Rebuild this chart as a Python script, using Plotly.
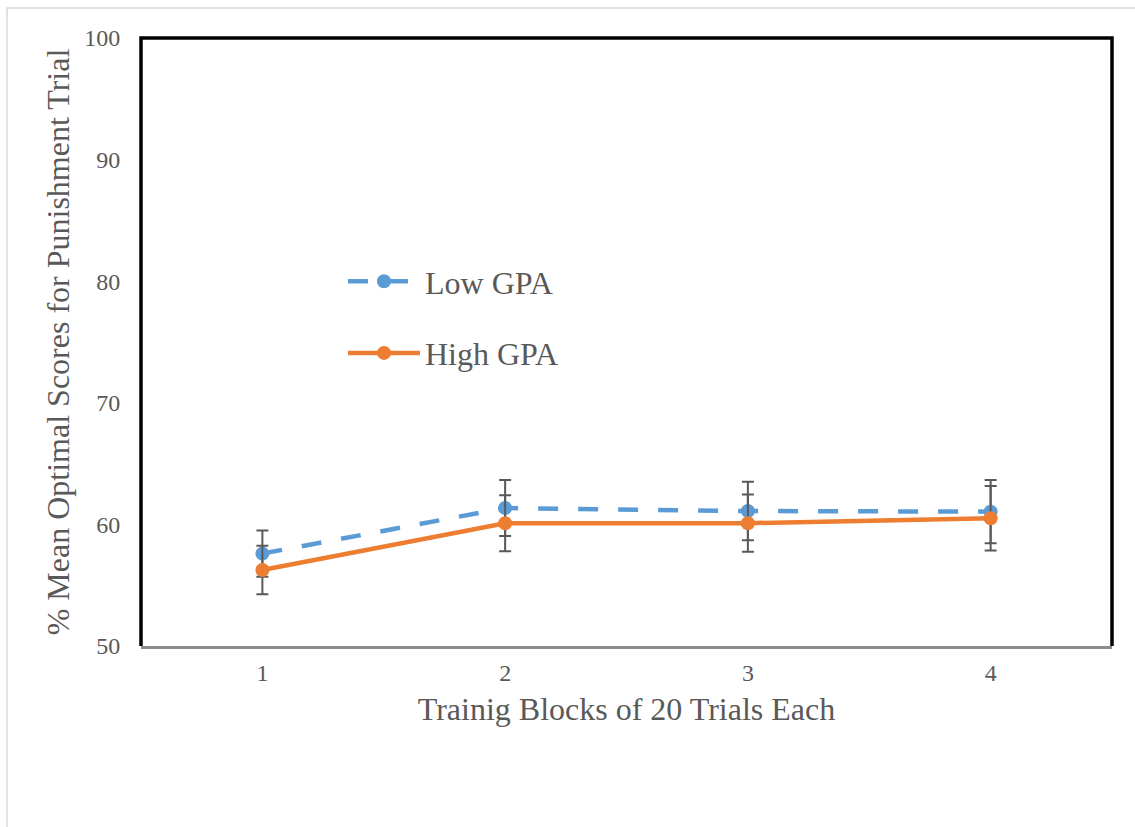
import plotly.graph_objects as go

blocks = [1, 2, 3, 4]
tick_labels = ["1", "2", "3", "4"]
low_gpa = [57.6, 61.35, 61.1, 61.05]
low_err = [1.9, 2.3, 2.4, 2.6]
high_gpa = [56.25, 60.1, 60.1, 60.5]
high_err = [2.0, 2.3, 2.35, 2.65]

BLUE = "#5B9BD5"
ORANGE = "#ED7D31"
GRAY = "#595959"
FONT = "Liberation Serif"

fig = go.Figure()
fig.add_trace(go.Scatter(
    x=blocks, y=low_gpa, name="Low GPA", mode="lines+markers",
    line=dict(color=BLUE, width=4.5, dash="20px,20px"),
    marker=dict(color=BLUE, size=14),
    error_y=dict(type="data", array=low_err, color=GRAY, thickness=2, width=6),
    legendgroup="a",
))
fig.add_trace(go.Scatter(
    x=blocks, y=high_gpa, name="High GPA", mode="lines+markers",
    line=dict(color=ORANGE, width=4.5),
    marker=dict(color=ORANGE, size=14),
    error_y=dict(type="data", array=high_err, color=GRAY, thickness=2, width=6),
    legendgroup="b",
))

W, H = 1135, 827
L, R, T, B = 141, 23, 38, 181
pw, ph = W - L - R, H - T - B

def px(x):
    return (x - L) / pw

def py(y):
    return (H - B - y) / ph

fig.update_layout(
    width=W, height=H,
    margin=dict(l=L, r=R, t=T, b=B),
    paper_bgcolor="white", plot_bgcolor="white",
    font=dict(family=FONT, color=GRAY),
    showlegend=True,
    legend=dict(
        x=px(343), y=py(254), xanchor="left", yanchor="top",
        font=dict(family=FONT, size=32, color=GRAY),
        bgcolor="rgba(0,0,0,0)", traceorder="grouped", tracegroupgap=27,
        itemwidth=72,
    ),
    xaxis=dict(
        range=[0.5, 4.5], tickmode="array", tickvals=blocks, ticktext=tick_labels,
        showgrid=False, zeroline=False, showline=True, linecolor="#8C8C8C", linewidth=3,
        ticks="outside", ticklen=3, tickcolor="rgba(0,0,0,0)",
        tickfont=dict(family=FONT, size=24, color=GRAY),
        title=dict(text="Trainig Blocks of 20 Trials Each",
                   font=dict(family=FONT, size=32, color=GRAY), standoff=13),
    ),
    yaxis=dict(
        range=[50, 100], tickvals=[50, 60, 70, 80, 90, 100],
        showgrid=False, zeroline=False, showline=False,
        ticks="outside", ticklen=15, tickcolor="rgba(0,0,0,0)",
        tickfont=dict(family=FONT, size=24, color=GRAY),
        title=dict(text="% Mean Optimal Scores for Punishment Trial",
                   font=dict(family=FONT, size=32, color=GRAY), standoff=5),
    ),
    shapes=[
        dict(type="path", xref="paper", yref="paper",
             path="M 0,0 L 0,1 L 1,1 L 1,0",
             line=dict(color="black", width=3.5), layer="above"),
        dict(type="path", xref="paper", yref="paper",
             path=f"M {px(7)},{py(827)} L {px(7)},{py(8)} L {px(1135)},{py(8)}",
             line=dict(color="#D9D9D9", width=1.5), layer="above"),
    ],
)

fig.write_html("out.html", config={"displayModeBar": False},
               post_script="document.body.style.margin='0';")
